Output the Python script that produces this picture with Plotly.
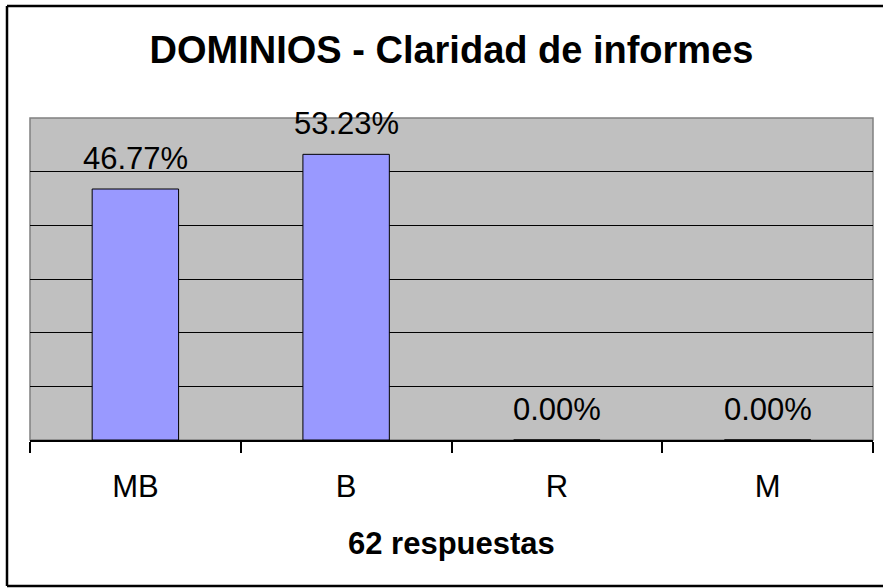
import plotly.graph_objects as go

categories = ["MB", "B", "R", "M"]
values = [0.4677, 0.5323, 0.0, 0.0]
labels = ["46.77%", "53.23%", "0.00%", "0.00%"]
title_text = "DOMINIOS - Claridad de informes"
axis_title = "62 respuestas"

W, H = 883, 588
L, R, T, B = 30, 10, 118, 148
pw, ph = W - L - R, H - T - B

FONT = "Liberation Sans, Arial, sans-serif"

fig = go.Figure()
fig.add_trace(go.Bar(
    x=categories, y=values,
    marker=dict(color="#9999FF", line=dict(color="black", width=1)),
    width=0.41, hoverinfo="skip",
))

annotations = [
    dict(x=c, y=v, text=t, xref="x", yref="y", showarrow=False,
         xanchor="center", yanchor="bottom", yshift=11,
         font=dict(family=FONT, size=31, color="black"))
    for c, v, t in zip(categories, values, labels)
]
annotations.append(dict(text=f"<b>{axis_title}</b>", xref="paper", yref="paper",
                        x=0.5, y=-(543 - (T + ph)) / ph, xanchor="center", yanchor="middle",
                        showarrow=False, font=dict(family=FONT, size=31, color="black")))

bx0 = (7 - L) / pw
bx1 = (W + 5 - L) / pw
by0 = -(586 - (T + ph)) / ph
by1 = ((T + ph) - 6) / ph
border = dict(color="black", width=2.5)

fig.update_layout(
    width=W, height=H,
    margin=dict(l=L, r=R, t=T, b=B, autoexpand=False),
    paper_bgcolor="white", plot_bgcolor="#C0C0C0",
    showlegend=False,
    font=dict(family=FONT, color="black"),
    title=dict(text=f"<b>{title_text}</b>", x=0.5, xref="paper", xanchor="center",
               y=1 - 50 / H, yref="container", yanchor="middle",
               font=dict(family=FONT, size=38, color="black")),
    xaxis=dict(showline=True, linecolor="black", linewidth=2,
               ticks="outside", ticklen=11, tickwidth=1.5, tickcolor="black",
               tickson="boundaries", showgrid=False,
               tickfont=dict(family=FONT, size=31, color="black"),
               ticklabelstandoff=18),
    yaxis=dict(range=[0, 0.6], tickvals=[0.1, 0.2, 0.3, 0.4, 0.5],
               showticklabels=False, showgrid=True, gridcolor="black", gridwidth=1,
               zeroline=False, showline=False, ticks=""),
    annotations=annotations,
    shapes=[
        dict(type="rect", xref="paper", yref="paper", x0=0, x1=1, y0=0, y1=1,
             line=dict(color="#808080", width=1.5), layer="below"),
        dict(type="line", xref="paper", yref="paper", x0=bx0, x1=bx0, y0=by0, y1=by1, line=border),
        dict(type="line", xref="paper", yref="paper", x0=bx0, x1=bx1, y0=by1, y1=by1, line=border),
        dict(type="line", xref="paper", yref="paper", x0=bx0, x1=bx1, y0=by0, y1=by0, line=border),
    ],
)

fig.write_html("out.html", config={"displayModeBar": False},
               post_script="document.body.style.margin='0';document.body.style.padding='0';document.body.style.overflow='hidden';")
